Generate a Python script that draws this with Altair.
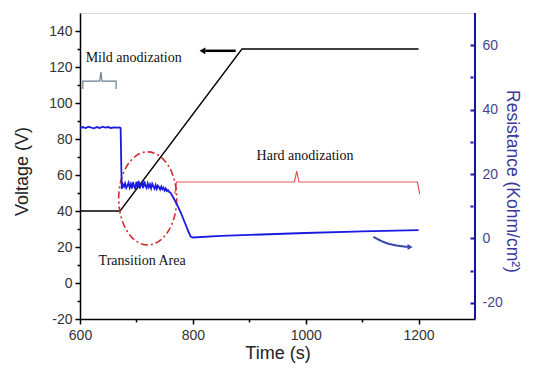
import altair as alt
import pandas as pd

# ---------------- data ----------------
volt_time = [600, 671, 887, 1200]
volt_value = [40, 40, 130, 130]

res_time = [600, 605, 610, 615, 620, 625, 630, 635, 640, 645, 650, 655, 660, 665, 670, 672, 673,
            674, 676, 678, 680, 682, 684, 686, 688, 690, 692, 694, 696, 698, 700, 702, 704, 706, 708,
            710, 712, 714, 716, 718, 720, 722, 724, 726, 728, 730, 732, 734, 736, 738, 740, 742, 744,
            746, 748, 750, 752, 754, 756, 758, 760,
            766, 772, 779, 786, 792, 796, 800, 850, 900, 1000, 1100, 1200]
res_value = [34.2, 34.6, 34.3, 34.7, 34.4, 34.2, 34.6, 34.3, 34.7, 34.4, 34.6, 34.3, 34.5, 34.4, 34.5, 34.3, 24.0,
             15.4, 16.8, 16.1, 17.1, 15.7, 16.4, 17.3, 15.8, 16.9, 15.5, 17.5, 16.2, 15.4, 17.6, 16.0, 17.9,
             15.5, 16.6, 17.3, 15.6, 17.8, 16.4, 15.7, 17.1, 15.9, 16.8, 15.6, 17.0, 16.2, 15.5, 16.6, 15.4,
             16.4, 15.9, 15.2, 16.1, 15.3, 15.8, 14.9, 15.5, 14.7, 15.0, 14.4, 14.3,
             12.5, 10.5, 7.9, 4.8, 2.2, 0.6, 0.3, 0.8, 1.1, 1.7, 2.2, 2.6]

# annotations (in voltage units)
mild_brace_t = [605, 605, 635, 637, 639, 664, 664]
mild_brace_v = [107.8, 112.2, 112.2, 117.2, 112.2, 112.2, 107.8]
hard_brace_t = [768, 771, 980, 984, 988, 1198, 1202]
hard_brace_v = [49.4, 56.1, 56.1, 62.2, 56.1, 56.1, 49.4]
label_text = ["Mild anodization", "Hard anodization", "Transition Area"]
label_t = [610, 913, 633]
label_v = [125, 70.6, 12]
ellipse_t = [720]
ellipse_v = [47]
black_arrow_t = [876, 822]
black_arrow_v = [129, 129]
black_head_t = [817]
black_head_v = [129]
blue_arrow_t = [1120, 1138, 1156, 1174, 1182]
blue_arrow_v = [25.6, 22.8, 21.1, 20.3, 20.1]
blue_head_t = [1185]
blue_head_v = [20]

# ---------------- styling ----------------
SANS = "Liberation Sans"
SERIF = "Liberation Serif"
W, H = 395, 306
x_scale = alt.Scale(domain=[600, 1300], nice=False, zero=False)
yl_scale = alt.Scale(domain=[-20, 150], nice=False, zero=False)
yr_scale = alt.Scale(domain=[-25, 70], nice=False, zero=False)

x_axis = alt.Axis(
    values=[600, 700, 800, 900, 1000, 1100, 1200],
    labelExpr="datum.value % 200 == 0 ? '' + datum.value : ''",
    tickSize={"condition": {"test": "datum.value % 200 == 0", "value": 5}, "value": 3},
    labelFlush=False,
    title="Time (s)", titleFontSize=18, titleFontWeight="normal", titleFont=SANS,
    titleColor="#222222", titlePadding=2,
    labelFont=SANS, labelFontSize=14, labelColor="#333333", labelPadding=4,
    domainColor="black", domainWidth=1.5, tickColor="black", tickWidth=1.5, grid=False,
)
yl_axis = alt.Axis(
    values=[-20, -10, 0, 10, 20, 30, 40, 50, 60, 70, 80, 90, 100, 110, 120, 130, 140],
    labelExpr="datum.value % 20 == 0 ? '' + datum.value : ''",
    tickSize={"condition": {"test": "datum.value % 20 == 0", "value": 5}, "value": 3},
    title="Voltage (V)", titleFontSize=18, titleFontWeight="normal", titleFont=SANS,
    titleColor="#222222", titlePadding=17, titleY=158,
    labelFont=SANS, labelFontSize=14, labelColor="#333333", labelPadding=3,
    domainColor="black", domainWidth=1.5, tickColor="black", tickWidth=1.5, grid=False,
)
yr_axis = alt.Axis(
    orient="right", offset=-5, domain=False,
    values=[-20, -10, 0, 10, 20, 30, 40, 50, 60],
    labelExpr="datum.value % 20 == 0 ? '' + datum.value : ''",
    tickSize={"condition": {"test": "datum.value % 20 == 0", "value": 5}, "value": 3},
    title="Resistance (Kohm/cm²)", titleFontSize=17.5, titleFontWeight="normal", titleFont=SANS,
    titleColor="#3a3a9a", titlePadding=0, titleY=168,
    labelFont=SANS, labelFontSize=14, labelColor="#45458f", labelPadding=7,
    tickColor="#1414a0", tickWidth=2, grid=False,
)


def X(field="t"):
    return alt.X(f"{field}:Q", scale=x_scale, axis=x_axis)


def YL(field="v"):
    return alt.Y(f"{field}:Q", scale=yl_scale, axis=yl_axis)


volt_df = pd.DataFrame({"t": volt_time, "v": volt_value})
res_df = pd.DataFrame({"t": res_time, "r": res_value})

voltage = alt.Chart(volt_df).mark_line(color="black", strokeWidth=1.3).encode(x=X(), y=YL())

mild = alt.Chart(pd.DataFrame({"t": mild_brace_t, "v": mild_brace_v, "o": list(range(len(mild_brace_t)))})).mark_line(
    color="#6a7f8f", strokeWidth=1.2).encode(x=X(), y=YL(), order="o:Q")
hard = alt.Chart(pd.DataFrame({"t": hard_brace_t, "v": hard_brace_v, "o": list(range(len(hard_brace_t)))})).mark_line(
    color="#e05858", strokeWidth=1.2).encode(x=X(), y=YL(), order="o:Q")

labels = alt.Chart(pd.DataFrame({"t": label_t, "v": label_v, "s": label_text})).mark_text(
    font=SERIF, fontSize=14, align="left", baseline="middle", color="#111111").encode(
    x=X(), y=YL(), text="s:N")

ell_path = ("M -0.624 0 C -0.624 -0.553 -0.345 -1 0 -1 C 0.345 -1 0.624 -0.553 0.624 0 "
            "C 0.624 0.553 0.345 1 0 1 C -0.345 1 -0.624 0.553 -0.624 0 Z")
ellipse = alt.Chart(pd.DataFrame({"t": ellipse_t, "v": ellipse_v})).mark_point(
    shape=ell_path, size=8649, filled=False, stroke="#d42a2a", strokeWidth=1.6,
    strokeDash=[7, 3, 2, 3], opacity=1).encode(x=X(), y=YL())

barrow = alt.Chart(pd.DataFrame({"t": black_arrow_t, "v": black_arrow_v})).mark_line(
    color="black", strokeWidth=2.5).encode(x=X(), y=YL())
bhead = alt.Chart(pd.DataFrame({"t": black_head_t, "v": black_head_v})).mark_point(
    shape="triangle-left", size=45, filled=True, color="black", opacity=1).encode(x=X(), y=YL())

blarrow = alt.Chart(pd.DataFrame({"t": blue_arrow_t, "v": blue_arrow_v})).mark_line(
    color="#3a4aaa", strokeWidth=2, interpolate="monotone").encode(x=X(), y=YL())
blhead = alt.Chart(pd.DataFrame({"t": blue_head_t, "v": blue_head_v})).mark_point(
    shape="triangle-right", size=35, filled=True, color="#3a4aaa", opacity=1).encode(x=X(), y=YL())

right_frame = alt.Chart(pd.DataFrame({"t": [1300]})).mark_rule(color="#1414a0", strokeWidth=2).encode(
    x=X(), y=alt.value(0), y2=alt.value(H))

left_group = alt.layer(voltage, mild, hard, labels, ellipse, barrow, bhead, blarrow, blhead, right_frame)

resistance = alt.Chart(res_df).mark_line(color="#1a1ae0", strokeWidth=1.8).encode(
    x=X(), y=alt.Y("r:Q", scale=yr_scale, axis=yr_axis))

chart = alt.layer(left_group, resistance).resolve_scale(y="independent").properties(
    width=W, height=H, autosize="none",
    padding={"left": 80, "top": 13, "right": 60, "bottom": 52},
).configure_view(stroke="black", strokeWidth=1.5).configure(background="white")

chart.save("out.html", embed_options={"renderer": "svg", "actions": False})
